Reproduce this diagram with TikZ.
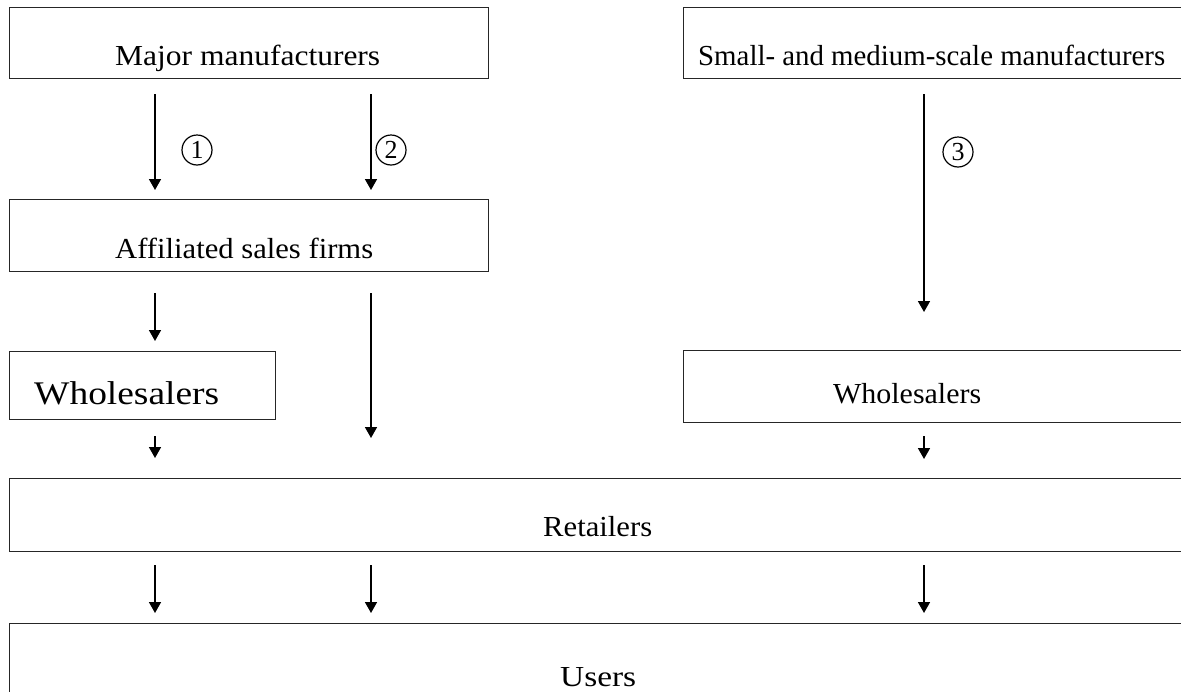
\documentclass[tikz,border=0pt]{standalone}
\usepackage{fontspec}
\setmainfont{Liberation Serif}
\usepackage{graphicx}
\usetikzlibrary{arrows.meta}
\newcommand{\tx}[2]{\resizebox{#1}{\height}{#2}}
\tikzset{
  box/.style={draw=black!85, line width=1.4pt, anchor=north west, inner sep=0pt},
  lbl/.style={anchor=base west, inner sep=0pt, font=\fontsize{29}{33}\selectfont},
  arr/.style={line width=1.7pt, -{Triangle[width=12pt,length=11pt]}},
  num/.style={draw, circle, line width=1.2pt, minimum size=30pt, inner sep=0pt, font=\fontsize{26}{28}\selectfont}
}
\begin{document}
\begin{tikzpicture}[x=1pt,y=-1pt]
\useasboundingbox (0,0) rectangle (1181,691);
\clip (0,0) rectangle (1181,691);
% boxes
\node[box, minimum width=479pt, minimum height=71pt] (mm) at (9,7) {};
\node[box, minimum width=510pt, minimum height=71pt] (sm) at (683,7) {};
\node[box, minimum width=479pt, minimum height=72pt] (af) at (9,199) {};
\node[box, minimum width=266pt, minimum height=68pt] (wl) at (9,351) {};
\node[box, minimum width=510pt, minimum height=72pt] (wr) at (683,350) {};
\node[box, minimum width=1185pt, minimum height=73pt] (re) at (9,478) {};
\node[box, minimum width=1185pt, minimum height=80pt] (us) at (9,623) {};
% labels
\node[lbl] (tmm) at (115,65) {\tx{265pt}{Major manufacturers}};
\node[lbl] (tsm) at (698,65) {\tx{467pt}{Small- and medium-scale manufacturers}};
\node[lbl] (taf) at (115,258) {\tx{258pt}{Affiliated sales firms}};
\node[lbl, font=\fontsize{33}{36}\selectfont] (twl) at (34,404) {\tx{185pt}{Wholesalers}};
\node[lbl] (twr) at (833,403) {\tx{148pt}{Wholesalers}};
\node[lbl] (tre) at (543,536) {\tx{109pt}{Retailers}};
\node[lbl] (tus) at (560,686) {\tx{76pt}{Users}};
% columns
\coordinate (c1) at (155,0);
\coordinate (c2) at (371,0);
\coordinate (c3) at (924,0);
\coordinate (e3) at (924,312);
\coordinate (e5) at (371,438);
% arrows
\draw[arr, shorten <=15pt, shorten >=9pt] (mm.south -| c1) -- (af.north -| c1);
\draw[arr, shorten <=15pt, shorten >=9pt] (mm.south -| c2) -- (af.north -| c2);
\draw[arr, shorten <=15pt] (sm.south -| c3) -- (e3);
\draw[arr, shorten <=21pt, shorten >=10pt] (af.south -| c1) -- (wl.north -| c1);
\draw[arr, shorten <=21pt] (af.south -| c2) -- (e5);
\draw[arr, shorten <=16pt, shorten >=20pt] (wl.south -| c1) -- (re.north -| c1);
\draw[arr, shorten <=13pt, shorten >=19pt] (wr.south -| c3) -- (re.north -| c3);
\draw[arr, shorten <=13pt, shorten >=10pt] (re.south -| c1) -- (us.north -| c1);
\draw[arr, shorten <=13pt, shorten >=10pt] (re.south -| c2) -- (us.north -| c2);
\draw[arr, shorten <=13pt, shorten >=10pt] (re.south -| c3) -- (us.north -| c3);
% circled numbers
\node[num] (n1) at (197,150) {1};
\node[num] (n2) at (391,150) {2};
\node[num] (n3) at (958,152) {3};
\end{tikzpicture}
\end{document}
